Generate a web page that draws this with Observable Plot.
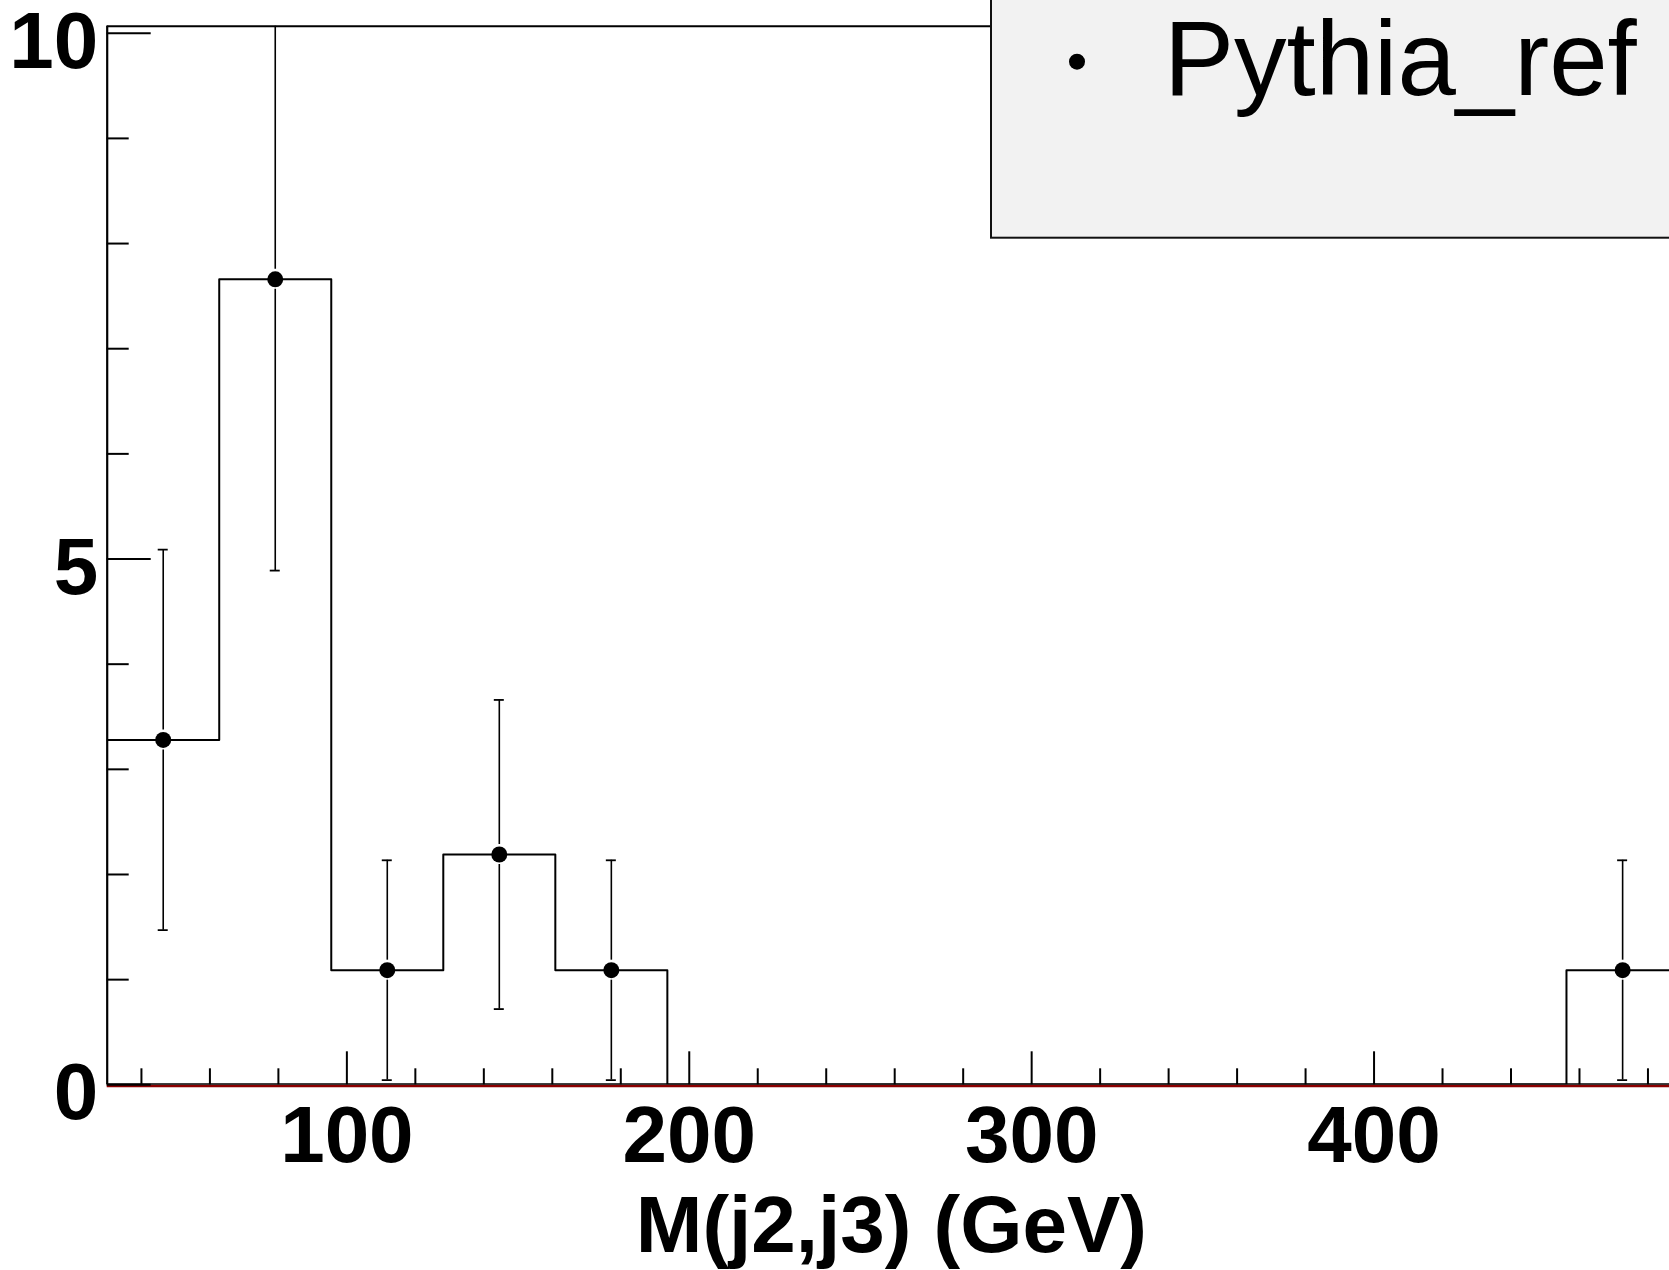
<!DOCTYPE html>
<html>
<head>
<meta charset="utf-8">
<script src="https://cdn.jsdelivr.net/npm/d3@7"></script>
<script src="https://cdn.jsdelivr.net/npm/@observablehq/plot@0.6"></script>
<style>
  html, body { margin: 0; padding: 0; background: #ffffff; }
  #wrap { position: relative; width: 1669px; height: 1270px; overflow: hidden; background: #ffffff; }
  #legend { position: absolute; left: 0; top: 0; pointer-events: none; }
</style>
</head>
<body>
<div id="wrap"></div>
<script>
// ---- data ----
const binEdges = [30, 62.72, 95.44, 128.16, 160.88, 193.6, 226.3, 259.0, 291.8, 324.5, 357.2, 389.9, 422.7, 456.2, 489.0];
const binValues = [3.28, 7.66, 1.09, 2.19, 1.09, 0, 0, 0, 0, 0, 0, 0, 0, 1.09];
const binErrors = [1.81, 2.77, 1.045, 1.47, 1.045, 0, 0, 0, 0, 0, 0, 0, 0, 1.045];
const xDomain = [30, 490];
const yDomain = [0, 10.067];
const xMajorTicks = [100, 200, 300, 400];
const xMinorTicks = [40, 60, 80, 120, 140, 160, 180, 220, 240, 260, 280, 320, 340, 360, 380, 420, 440, 460, 480];
const yMajorTicks = [0, 5, 10];
const yMinorTicks = [1, 2, 3, 4, 6, 7, 8, 9];
const xTitle = "M(j2,j3) (GeV)";
const seriesName = "Pythia_ref";

// ---- derived tables ----
const bins = binValues.map((v, i) => ({
  lo: binEdges[i], hi: binEdges[i + 1], c: (binEdges[i] + binEdges[i + 1]) / 2, v, e: binErrors[i]
}));
const filled = bins.filter(b => b.v > 0);
const step = bins.map(b => ({x: b.lo, y: b.v}))
  .filter((d, i, a) => i === 0 || d.y !== a[i - 1].y);
step.push({x: binEdges[binEdges.length - 1], y: binValues[binValues.length - 1]});

const font = "Liberation Sans, Arial, Helvetica, sans-serif";
const xMin = xDomain[0];

const chart = Plot.plot({
  width: 1669,
  height: 1270,
  marginLeft: 106.7,
  marginRight: 0,
  marginTop: 25.7,
  marginBottom: 185.7,
  x: {domain: xDomain, range: [106.7, 1681.7]},
  y: {domain: yDomain},
  style: {fontFamily: font, background: "white", color: "black", overflow: "visible"},
  marks: [
    // histogram outline
    Plot.line(step, {x: "x", y: "y", curve: "step-after", stroke: "black", strokeWidth: 2, clip: true}),
    // error bars (upper / lower, with a gap around the marker)
    Plot.ruleX(filled, {x: "c", y1: d => d.v + d.e, y2: "v", insetBottom: 10, stroke: "black", strokeWidth: 1.6, clip: true}),
    Plot.ruleX(filled, {x: "c", y1: "v", y2: d => d.v - d.e, insetTop: 10, stroke: "black", strokeWidth: 1.6, clip: true}),
    // caps
    Plot.ruleY(filled, {y: d => d.v + d.e, x1: "c", x2: "c", insetLeft: -5, insetRight: -5, stroke: "black", strokeWidth: 1.8, clip: true}),
    Plot.ruleY(filled, {y: d => d.v - d.e, x1: "c", x2: "c", insetLeft: -5, insetRight: -5, stroke: "black", strokeWidth: 1.8, clip: true}),
    // markers
    Plot.dot(filled, {x: "c", y: "v", r: 8, fill: "black", stroke: "none"}),
    // baseline (dark red under black)
    Plot.ruleY([0], {stroke: "#8b0000", strokeWidth: 2.4, dy: 1.2}),
    Plot.ruleY([0], {stroke: "black", strokeWidth: 1.4, dy: -0.8}),
    // frame: top and left
    Plot.ruleY([yDomain[1]], {stroke: "black", strokeWidth: 2}),
    Plot.ruleX([xMin], {stroke: "black", strokeWidth: 2.2}),
    // inward ticks
    Plot.ruleX(xMajorTicks, {y1: 0, y2: 0, insetTop: -33, stroke: "black", strokeWidth: 2}),
    Plot.ruleX(xMinorTicks, {y1: 0, y2: 0, insetTop: -16, stroke: "black", strokeWidth: 2}),
    Plot.ruleY(yMajorTicks, {x1: () => xMin, x2: () => xMin, insetRight: -44, stroke: "black", strokeWidth: 2}),
    Plot.ruleY(yMinorTicks, {x1: () => xMin, x2: () => xMin, insetRight: -22, stroke: "black", strokeWidth: 2}),
    // tick labels
    Plot.axisX(xMajorTicks, {anchor: "bottom", tickSize: 0, tickPadding: 20, fontSize: 80, fontWeight: "bold", label: null, tickFormat: d => String(d)}),
    Plot.axisY(yMajorTicks, {anchor: "left", tickSize: 0, tickPadding: 9, fontSize: 80, fontWeight: "bold", dy: 9, label: null, tickFormat: d => String(d)}),
    // axis title
    Plot.text([xTitle], {text: d => d, frameAnchor: "bottom", lineAnchor: "top", dy: 110.7, dx: 3, fontSize: 80, fontWeight: "bold", fill: "black"})
  ]
});

const wrap = document.getElementById("wrap");
wrap.appendChild(chart);

// ---- legend overlay ----
const ns = "http://www.w3.org/2000/svg";
const leg = document.createElementNS(ns, "svg");
leg.setAttribute("id", "legend");
leg.setAttribute("width", 1669);
leg.setAttribute("height", 1270);
const box = document.createElementNS(ns, "rect");
box.setAttribute("x", 991); box.setAttribute("y", -20);
box.setAttribute("width", 800); box.setAttribute("height", 257.7);
box.setAttribute("fill", "#f2f2f2"); box.setAttribute("stroke", "#111"); box.setAttribute("stroke-width", 2);
leg.appendChild(box);
const mk = document.createElementNS(ns, "circle");
mk.setAttribute("cx", 1077); mk.setAttribute("cy", 61.7); mk.setAttribute("r", 8); mk.setAttribute("fill", "black");
leg.appendChild(mk);
const tx = document.createElementNS(ns, "text");
tx.setAttribute("x", 1164); tx.setAttribute("y", 95);
tx.setAttribute("font-family", font); tx.setAttribute("font-size", 105);
tx.setAttribute("fill", "black");
tx.textContent = seriesName;
leg.appendChild(tx);
wrap.appendChild(leg);
</script>
</body>
</html>
